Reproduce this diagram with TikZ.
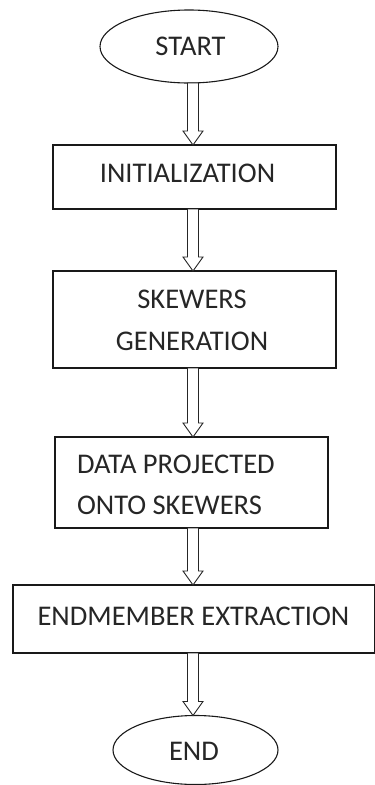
\documentclass[tikz,border=0pt]{standalone}
\usepackage{fontspec}
\setmainfont{Carlito}
\usetikzlibrary{shapes.geometric,calc}
\newcommand\harrow[2]{%
  \draw[hollowarrow] let \p1=(#1), \p2=(#2) in
    (\x1-5.5pt,\y1) -- (\x1-5.5pt,\y2+14pt) -- (\x1-10pt,\y2+14pt) -- (\x1,\y2)
    -- (\x1+10pt,\y2+14pt) -- (\x1+5.5pt,\y2+14pt) -- (\x1+5.5pt,\y1) -- cycle;}
\begin{document}
\begin{tikzpicture}[x=1pt,y=-1pt,
  every node/.style={inner sep=0pt, outer sep=0pt},
  shp/.style={draw=black!90, line width=1.1pt},
  oval/.style={shp, ellipse},
  boxx/.style={shp, rectangle},
  lbl/.style={font=\fontsize{28.5}{34}\selectfont, text=black!85, anchor=base},
  hollowarrow/.style={draw=black!85, line width=0.9pt, fill=white}
]
\useasboundingbox (0,0) rectangle (375,785);
\coordinate (ax) at (193,0);
% shapes
\node[oval, minimum width=178pt, minimum height=73pt] (start) at (189,46.5) {};
\node[boxx, minimum width=283pt, minimum height=64pt] (init) at (194.5,177) {};
\node[boxx, minimum width=283pt, minimum height=97pt] (skew) at (194.5,319.5) {};
\node[boxx, minimum width=273pt, minimum height=91pt] (data) at (191.5,482.5) {};
\node[boxx, minimum width=361.5pt, minimum height=68pt] (endm) at (193.75,619) {};
\node[oval, minimum width=165pt, minimum height=69pt] (fin) at (195.5,750) {};
% connectors
\harrow{start.south -| ax}{init.north -| ax}
\harrow{init.south -| ax}{skew.north -| ax}
\harrow{skew.south -| ax}{data.north -| ax}
\harrow{data.south -| ax}{endm.north -| ax}
\harrow{endm.south -| ax}{fin.north -| ax}
% texts
\node[lbl] (tstart) at (190.5,55) {START};
\node[lbl] (tinit) at (187.5,182) {INITIALIZATION};
\node[lbl] (tskew1) at (192,308) {SKEWERS};
\node[lbl] (tskew2) at (192,350) {GENERATION};
\node[lbl, anchor=base west] (tdata1) at (77,473) {DATA PROJECTED};
\node[lbl, anchor=base west] (tdata2) at (77,514) {ONTO SKEWERS};
\node[lbl] (tendm) at (193.5,625) {ENDMEMBER EXTRACTION};
\node[lbl] (tend) at (194,760) {END};
\end{tikzpicture}
\end{document}
